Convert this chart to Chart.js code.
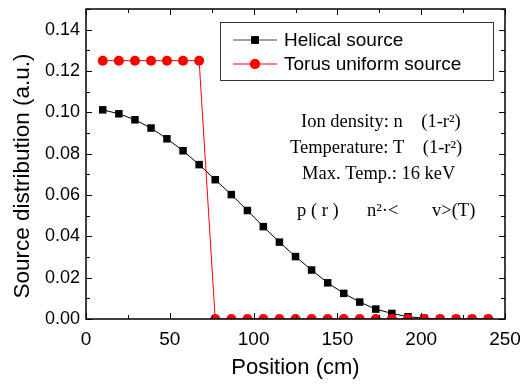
<!DOCTYPE html>
<html>
<head>
<meta charset="utf-8">
<script src="https://cdn.jsdelivr.net/npm/chart.js@4"></script>
<style>
  html, body { margin: 0; padding: 0; background: #fff; }
  #wrap { width: 529px; height: 385px; }
</style>
</head>
<body>
<div id="wrap"><canvas id="chart" width="529" height="385"></canvas></div>
<script>
// positions (cm), same for both curves
const positions = [10, 19.6, 29.2, 38.8, 48.3, 57.9, 67.5, 77.1, 86.7, 96.3, 105.8, 115.4, 125,
  134.6, 144.2, 153.8, 163.3, 172.9, 182.5, 192.1, 201.7, 211.3, 220.8, 230.4, 240];

const helical = [0.1012, 0.0993, 0.0964, 0.0924, 0.0872, 0.0814, 0.0747, 0.0674, 0.0602, 0.0525,
  0.0447, 0.0372, 0.0302, 0.0237, 0.0175, 0.0124, 0.0082, 0.0048, 0.0027, 0.0011, 0.0004, 0, 0, 0, 0];

const torus = [0.125, 0.125, 0.125, 0.125, 0.125, 0.125, 0.125, 0, 0, 0, 0, 0, 0,
  0, 0, 0, 0, 0, 0, 0, 0, 0, 0, 0, 0];

const xTicks = [0, 50, 100, 150, 200, 250];
const yTicks = [0, 0.02, 0.04, 0.06, 0.08, 0.10, 0.12, 0.14];

const seriesNames = ["Helical source", "Torus uniform source"];
const yTitle = "Source distribution (a.u.)";

const notes = [
  "Ion density: n    (1-r\u00b2)",
  "Temperature: T    (1-r\u00b2)",
  "Max. Temp.: 16 keV"
];

const toPoints = vals => vals.map((v, i) => ({ x: positions[i], y: v }));

// frame, inward ticks on all four sides, y title, legend box and the notes
const decor = {
  id: "decor",
  afterDraw(chart) {
    const c = chart.ctx;
    const a = chart.chartArea;
    const xs = chart.scales.x, ys = chart.scales.y;
    c.save();
    c.strokeStyle = "#000";
    c.lineWidth = 1.5;
    c.strokeRect(a.left, a.top, a.right - a.left, a.bottom - a.top);

    c.lineWidth = 1;
    c.beginPath();
    for (let v = 0; v <= 250; v += 25) {
      const px = Math.round(xs.getPixelForValue(v)) + 0.5;
      const len = v % 50 === 0 ? 6 : 4;
      c.moveTo(px, a.bottom); c.lineTo(px, a.bottom - len);
      c.moveTo(px, a.top); c.lineTo(px, a.top + len);
    }
    for (let k = 0; k <= 15; k++) {
      const v = k * 0.01;
      const py = Math.round(ys.getPixelForValue(v)) + 0.5;
      const len = k % 2 === 0 ? 6 : 4;
      c.moveTo(a.left, py); c.lineTo(a.left + len, py);
      c.moveTo(a.right, py); c.lineTo(a.right - len, py);
    }
    c.stroke();

    // y axis title (sits a bit below the plot centre in the original)
    c.save();
    c.translate(23, 176);
    c.rotate(-Math.PI / 2);
    c.font = "22.5px 'Liberation Sans', Arial, sans-serif";
    c.fillStyle = "#000";
    c.textAlign = "center";
    c.textBaseline = "middle";
    c.fillText(yTitle, 0, 0);
    c.restore();

    // legend
    c.fillStyle = "#fff";
    c.fillRect(220.5, 22.5, 273, 58);
    c.strokeStyle = "#333";
    c.lineWidth = 1;
    c.strokeRect(220.5, 22.5, 273, 58);
    const rows = [
      { y: 40, color: "#000", line: "#444", style: "rect", r: 5.3 },
      { y: 64, color: "#ff0000", line: "#ff0000", style: "circle", r: 5 }
    ];
    rows.forEach((row, i) => {
      c.strokeStyle = row.line;
      c.lineWidth = 1.2;
      c.beginPath(); c.moveTo(233, row.y); c.lineTo(277, row.y); c.stroke();
      c.fillStyle = row.color;
      Chart.helpers.drawPoint(c, { pointStyle: row.style, radius: row.r, borderWidth: 0 }, 255, row.y);
      c.fill();
      c.fillStyle = "#000";
      c.font = "19px 'Liberation Sans', Arial, sans-serif";
      c.textBaseline = "middle";
      c.textAlign = "left";
      c.fillText(seriesNames[i], 284, row.y + 1);
    });

    // notes
    c.font = "18.5px 'Liberation Serif', 'Times New Roman', serif";
    c.fillStyle = "#000";
    c.textBaseline = "middle";
    c.fillText(notes[0], 301, 122);
    c.fillText(notes[1], 290, 148);
    c.fillText(notes[2], 302, 174);
    c.fillText("p ( r )", 297, 211);
    c.fillText("n\u00b2\u00b7<", 367, 211);
    c.fillText("v>(T)", 432, 211);
    c.restore();
  }
};

new Chart(document.getElementById("chart"), {
  type: "line",
  data: {
    datasets: [
      {
        label: seriesNames[1],
        data: toPoints(torus),
        borderColor: "#ff0000",
        backgroundColor: "#ff0000",
        borderWidth: 1,
        pointStyle: "circle",
        pointRadius: 5,
        pointBorderWidth: 0,
        order: 0
      },
      {
        label: seriesNames[0],
        data: toPoints(helical),
        borderColor: "#000",
        backgroundColor: "#000",
        borderWidth: 1,
        pointStyle: "rect",
        pointRadius: 5.3,
        pointBorderWidth: 0,
        order: 1
      }
    ]
  },
  options: {
    responsive: false,
    animation: false,
    layout: { padding: { left: 0, top: 9, right: 24, bottom: 4 } },
    plugins: { legend: { display: false }, tooltip: { enabled: false } },
    scales: {
      x: {
        type: "linear",
        min: 0, max: 250,
        afterBuildTicks: s => { s.ticks = xTicks.map(v => ({ value: v })); },
        afterFit: s => { s.height = 62; s.paddingLeft = 0; s.paddingRight = 0; },
        grid: { display: false, drawTicks: false },
        border: { display: false },
        ticks: {
          color: "#000",
          padding: 9,
          maxRotation: 0,
          font: { family: "'Liberation Sans', Arial, sans-serif", size: 19 }
        },
        title: {
          display: true,
          text: "Position (cm)",
          color: "#000",
          padding: 0,
          font: { family: "'Liberation Sans', Arial, sans-serif", size: 22 }
        }
      },
      y: {
        type: "linear",
        min: 0, max: 0.15,
        afterBuildTicks: s => { s.ticks = yTicks.map(v => ({ value: v })); },
        afterFit: s => { s.width = 86; s.paddingTop = 0; s.paddingBottom = 0; },
        grid: { display: false, drawTicks: false },
        border: { display: false },
        ticks: {
          color: "#000",
          padding: 6,
          callback: v => v.toFixed(2),
          font: { family: "'Liberation Sans', Arial, sans-serif", size: 18 }
        },
        title: { display: false }
      }
    }
  },
  plugins: [decor]
});
</script>
</body>
</html>
